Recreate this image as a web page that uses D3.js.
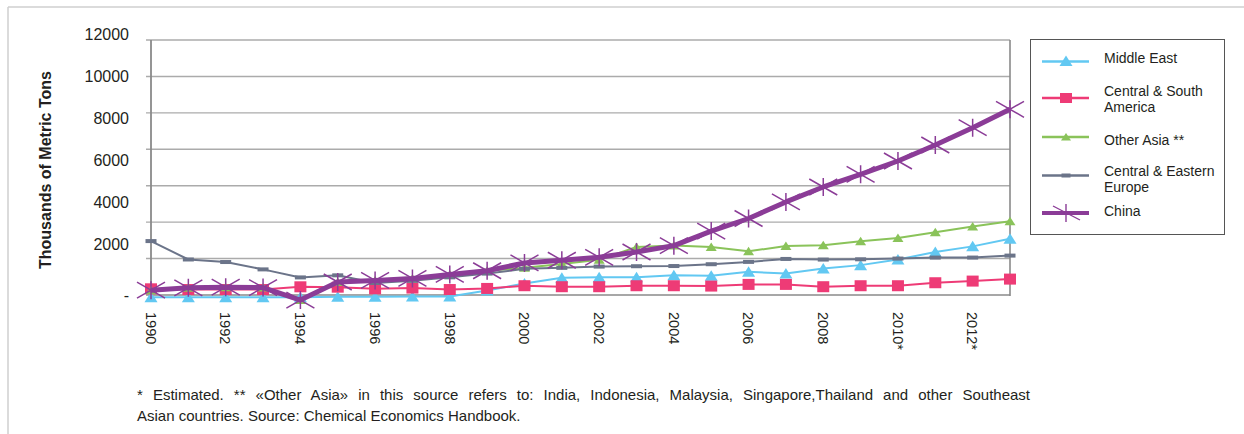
<!DOCTYPE html>
<html><head><meta charset="utf-8">
<script src="https://cdnjs.cloudflare.com/ajax/libs/d3/7.8.5/d3.min.js"></script>
<style>html,body{margin:0;padding:0;background:#fff;} svg{display:block;font-family:"Liberation Sans",Arial,sans-serif;}</style>
</head><body><svg id="c" width="1244" height="434"></svg>
<script>
const years = [1990,1991,1992,1993,1994,1995,1996,1997,1998,1999,2000,2001,2002,2003,2004,2005,2006,2007,2008,2009,2010,2011,2012,2013];
const middleEast   = [-120,-120,-120,-120,-120,-100,-100,-80,-80,250,630,950,980,980,1080,1060,1270,1180,1450,1640,1950,2360,2670,3090];
const centralSouthAmerica = [340,300,300,300,450,430,340,380,300,360,510,455,455,509,509,490,582,582,455,509,509,673,764,873];
const otherAsia    = [265,395,430,410,-280,715,800,910,1130,1330,1490,1700,1930,2640,2720,2640,2400,2690,2730,2945,3130,3450,3760,4050];
const centralEasternEurope = [2960,1950,1810,1406,965,1080,660,780,970,1175,1440,1490,1560,1580,1590,1690,1818,1980,1945,1960,2000,2055,2055,2163];
const china        = [265,395,430,410,-280,715,800,910,1130,1330,1760,1909,2070,2360,2710,3510,4200,5110,5930,6627,7357,8235,9185,10195];

const seriesNames = ["Middle East","Central & South America","Other Asia **","Central & Eastern Europe","China"];
const legendLines = [["Middle East"],["Central & South","America"],["Other Asia **"],["Central & Eastern","Europe"],["China"]];

const tickYears  = [1990,1992,1994,1996,1998,2000,2002,2004,2006,2008,2010,2012];
const tickLabels = ["1990","1992","1994","1996","1998","2000","2002","2004","2006","2008","2010*","2012*"];
const gridValues = [0,2000,4000,6000,8000,10000,12000,14000];
const yTickValues = [0,2000,4000,6000,8000,10000,12000];
const yTickLabels = ["-","2000","4000","6000","8000","10000","12000"];
const yTitle = "Thousands of Metric Tons";
const captionLines = [
  "* Estimated. ** \u00abOther Asia\u00bb in this source refers to: India, Indonesia, Malaysia, Singapore,Thailand and other Southeast",
  "Asian countries. Source: Chemical Economics Handbook."
];

const svg = d3.select("#c");
const L = 151, R = 1010, T = 40, B = 295;
const x = d3.scalePoint().domain(years).range([L, R]);
const y = d3.scaleLinear().domain([0, 14000]).range([B, T]);
const yLab = d3.scaleLinear().domain([2000, 12000]).range([244, 34.5]);
const textCol = "#231f20";

// outer frame
svg.append("line").attr("x1",8).attr("x2",1244).attr("y1",7).attr("y2",7).attr("stroke","#cfcfcf").attr("stroke-width",1.5);
svg.append("line").attr("x1",8).attr("x2",8).attr("y1",7).attr("y2",434).attr("stroke","#cfcfcf").attr("stroke-width",1.5);

// gridlines
svg.append("g").selectAll("line").data(gridValues.filter(v=>v>0)).join("line")
  .attr("x1", L - 5).attr("x2", R).attr("y1", d=>y(d)).attr("y2", d=>y(d))
  .attr("stroke", "#ababab").attr("stroke-width", 1.4);
svg.append("line").attr("x1",L-5).attr("x2",L).attr("y1",y(0)).attr("y2",y(0)).attr("stroke","#8a8a8a").attr("stroke-width",1.4);
svg.append("line").attr("x1",L).attr("x2",R).attr("y1",y(0)).attr("y2",y(0)).attr("stroke","#8a8a8a").attr("stroke-width",1.6);
svg.append("line").attr("x1",R).attr("x2",R).attr("y1",T).attr("y2",y(0)+1).attr("stroke","#8a8a8a").attr("stroke-width",1.6);
svg.append("line").attr("x1",L).attr("x2",L).attr("y1",T).attr("y2",y(0)+5).attr("stroke","#8a8a8a").attr("stroke-width",1.8);

// y labels
svg.append("g").selectAll("text").data(yTickValues).join("text")
  .attr("x", 129).attr("y", d => d === 0 ? y(0) : yLab(d))
  .attr("dy","0.36em").attr("text-anchor","end")
  .attr("font-size",16).attr("fill",textCol)
  .text((d,i)=>yTickLabels[i]);

// y title
svg.append("text").attr("transform","translate(51,170) rotate(-90)")
  .attr("text-anchor","middle").attr("font-size",16).attr("font-weight","bold").attr("fill",textCol)
  .text(yTitle);

// x labels
svg.append("g").selectAll("text").data(tickYears).join("text")
  .attr("transform", d => `translate(${x(d)},312) rotate(90)`)
  .attr("dy","0.36em").attr("text-anchor","start")
  .attr("font-size",14.5).attr("fill",textCol)
  .text((d,i)=>tickLabels[i]);

// series
const colors = ["#62c8f2","#ee3b76","#8ac35a","#6b7489","#8b3c97"];
const widths = [2,2,2,2,5];
const data = [middleEast, centralSouthAmerica, otherAsia, centralEasternEurope, china];
const markers = [
  g => g.append("path").attr("d","M0,-5.5L6.5,5L-6.5,5Z").attr("fill",colors[0]),
  g => g.append("rect").attr("x",-6).attr("y",-5.5).attr("width",12).attr("height",11).attr("fill",colors[1]),
  g => g.append("path").attr("d","M0,-4.5L5.5,4L-5.5,4Z").attr("fill",colors[2]),
  g => g.append("rect").attr("x",-5.5).attr("y",-2).attr("width",11).attr("height",4).attr("fill",colors[3]),
  g => g.append("path").attr("d","M-14,-8L14,8M-14,8L14,-8M0,-9L0,9").attr("stroke",colors[4]).attr("stroke-width",1.5).attr("fill","none")
];
const line = d3.line().x((d,i)=>x(years[i])).y(d=>y(d));
data.forEach((vals, s) => {
  const g = svg.append("g");
  g.append("path").datum(vals).attr("d", line).attr("fill","none")
    .attr("stroke", colors[s]).attr("stroke-width", widths[s]).attr("stroke-linejoin","round");
  g.selectAll("g.m").data(vals).join("g").attr("class","m")
    .attr("transform",(d,i)=>`translate(${x(years[i])},${y(d)})`)
    .each(function(){ markers[s](d3.select(this)); });
});

// legend
const lg = svg.append("g");
lg.append("rect").attr("x",1030.5).attr("y",39.5).attr("width",194).attr("height",195)
  .attr("fill","#fff").attr("stroke","#555").attr("stroke-width",1);
const legY = [61.5, 98, 137, 175.5, 213];
const legText = [[63],[95.5,111.5],[145],[175.5,191.5],[216]];
const legMarkers = [
  g => g.append("path").attr("d","M0,-6L6.5,4.5L-6.5,4.5Z").attr("fill",colors[0]),
  g => g.append("rect").attr("x",-6).attr("y",-5).attr("width",12).attr("height",10).attr("fill",colors[1]),
  g => g.append("path").attr("d","M0,-4L5,3.5L-5,3.5Z").attr("fill",colors[2]),
  g => g.append("rect").attr("x",-4.5).attr("y",-2).attr("width",9).attr("height",4).attr("fill",colors[3]),
  g => g.append("path").attr("d","M-13,-7L14,7M0,-9L0,9").attr("stroke",colors[4]).attr("stroke-width",1.4).attr("fill","none")
];
seriesNames.forEach((n, i) => {
  const gi = lg.append("g");
  gi.append("line").attr("x1",1042).attr("x2",1089).attr("y1",legY[i]).attr("y2",legY[i])
    .attr("stroke",colors[i]).attr("stroke-width", i===4 ? 4 : 2.7);
  const mg = gi.append("g").attr("transform",`translate(1066,${legY[i]})`);
  legMarkers[i](mg);
  legendLines[i].forEach((t, k) => {
    gi.append("text").attr("x",1104).attr("y",legText[i][k]).attr("font-size",14).attr("fill",textCol).text(t);
  });
});

// caption (first line justified to the block width)
const capX = 137, capRight = 1030;
const capTexts = svg.append("g").selectAll("text").data(captionLines).join("text")
  .attr("x",capX).attr("y",(d,i)=>399.5 + i*21).attr("font-size",15).attr("fill",textCol).text(d=>d);
capTexts.filter((d,i)=>i===0).each(function(d){
  const len = this.getComputedTextLength();
  const spaces = (d.match(/ /g) || []).length;
  const extra = (capRight - capX - len) / spaces;
  if (extra > 0) d3.select(this).attr("word-spacing", extra);
});
</script>
</body></html>
